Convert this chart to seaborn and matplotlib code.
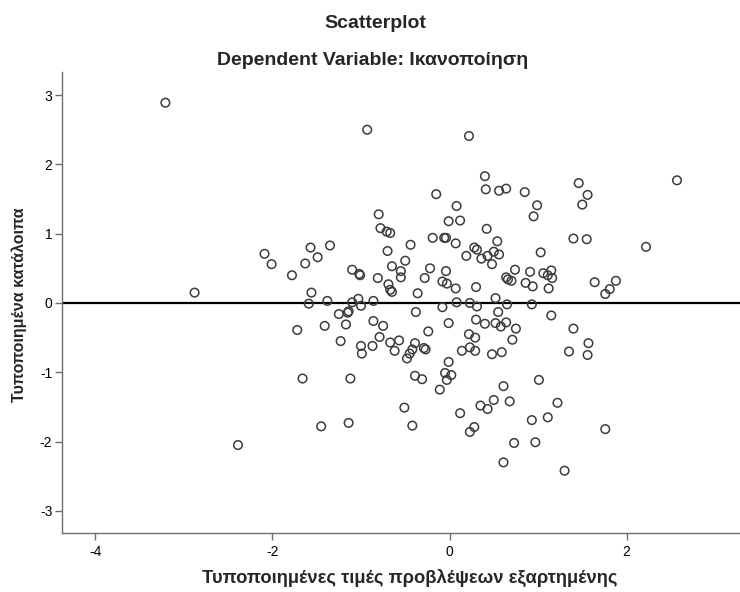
import matplotlib
matplotlib.use("Agg")
import matplotlib.pyplot as plt
import seaborn as sns
import pandas as pd

# Standardized predicted values (x) and standardized residuals (y)
pred = [
    -3.21, -2.09, -2.01, -2.88, -2.39,
    -1.78, -1.63, -1.57, -1.49, -1.35, -1.56, -1.59, -1.38, -1.10, -1.02,
    -1.01, -1.10, -1.03, -1.00, -0.86, -0.80, -0.78, -0.71, -0.67, -0.70,
    -0.65, -0.81, -0.69, -0.67, -0.65,
    -1.25, -1.15, -1.14, -1.72, -1.41, -1.17, -0.86, -0.75, -1.23, -1.00,
    -0.99, -0.87, -0.79, -0.67, -0.62, -1.66, -1.12, -1.45, -1.14, -0.93,
    0.22, -0.15, 0.40, 0.41, 0.56, 0.64, 0.08, -0.01, 0.12, 0.42,
    -0.19, -0.06, -0.04, 0.07, -0.44, 0.54, 0.19, 0.28, 0.31, 0.36,
    0.43, 0.50, 0.56, 0.48, -0.50, -0.55, -0.55, -0.22, -0.28, -0.04,
    -0.08, -0.03, 0.07, 0.30, 0.64, 0.66, 0.52, -0.36, 0.08, 0.23,
    -0.38, -0.08, 0.31, 0.55, 0.65,
    -0.01, 0.30, 0.40, 0.52, 0.58, 0.64, -0.24, -0.57, -0.39, -0.42,
    -0.45, -0.48, -0.29, -0.27, 0.22, 0.29, 0.14, 0.23, 0.29, 0.48,
    0.59, -0.01, -0.05, 0.02, -0.03, -0.39, -0.31, -0.11, 0.61, -0.51,
    -0.42, 0.12, 0.35, 0.43, 0.50, 0.68, 0.23, 0.28, 0.61,
    0.85, 0.99, 0.95, 1.46, 1.56, 1.50, 1.40, 1.55, 1.03, 0.74,
    0.70, 0.91, 0.86, 0.94, 1.06, 1.11, 1.15, 1.16, 1.12, 1.64,
    1.76, 1.81, 1.88, 0.93,
    0.75, 0.71, 1.15, 1.40, 1.57, 1.35, 1.56, 1.01, 1.22, 0.93,
    1.11, 1.76, 0.73, 0.97, 1.30,
    2.57, 2.22,
]
resid = [
    2.89, 0.71, 0.56, 0.15, -2.05,
    0.40, 0.57, 0.80, 0.66, 0.83, 0.15, -0.01, 0.03, 0.48, 0.42,
    0.40, 0.01, 0.06, -0.04, 0.03, 1.28, 1.08, 1.03, 1.01, 0.75,
    0.53, 0.36, 0.27, 0.19, 0.16,
    -0.16, -0.14, -0.12, -0.39, -0.33, -0.31, -0.26, -0.33, -0.55, -0.62,
    -0.73, -0.62, -0.49, -0.57, -0.69, -1.09, -1.09, -1.78, -1.73, 2.50,
    2.41, 1.57, 1.83, 1.64, 1.62, 1.65, 1.40, 1.18, 1.19, 1.07,
    0.94, 0.94, 0.94, 0.86, 0.84, 0.89, 0.68, 0.80, 0.77, 0.64,
    0.68, 0.74, 0.70, 0.56, 0.61, 0.46, 0.37, 0.50, 0.36, 0.46,
    0.31, 0.28, 0.21, 0.23, 0.37, 0.34, 0.07, 0.14, 0.01, 0.00,
    -0.13, -0.06, -0.05, -0.13, -0.02,
    -0.29, -0.24, -0.30, -0.29, -0.34, -0.28, -0.41, -0.54, -0.58, -0.67,
    -0.73, -0.80, -0.65, -0.67, -0.45, -0.50, -0.69, -0.64, -0.69, -0.74,
    -0.71, -0.85, -1.01, -1.04, -1.11, -1.05, -1.10, -1.25, -1.20, -1.51,
    -1.77, -1.59, -1.48, -1.53, -1.40, -1.42, -1.86, -1.79, -2.30,
    1.60, 1.41, 1.25, 1.73, 1.56, 1.42, 0.93, 0.92, 0.73, 0.48,
    0.32, 0.45, 0.29, 0.24, 0.43, 0.40, 0.47, 0.36, 0.21, 0.30,
    0.13, 0.20, 0.32, -0.02,
    -0.37, -0.53, -0.18, -0.37, -0.58, -0.70, -0.75, -1.11, -1.44, -1.69,
    -1.65, -1.82, -2.02, -2.01, -2.42,
    1.77, 0.81,
]

x_ticks = [-4, -2, 0, 2]
y_ticks = [-3, -2, -1, 0, 1, 2, 3]
title = "Scatterplot"
subtitle = "Dependent Variable: Ικανοποίηση"
x_label = "Τυποποιημένες τιμές προβλέψεων εξαρτημένης"
y_label = "Τυποποιημένα κατάλοιπα"

df = pd.DataFrame({"pred": pred, "resid": resid})

sns.set_theme(style="white")
plt.rcParams["font.family"] = ["Liberation Sans", "DejaVu Sans"]

fig = plt.figure(figsize=(7.4, 5.92), dpi=100)
ax = fig.add_axes([62 / 740, 59 / 592, 678 / 740, 461 / 592])

ax.axhline(0, color="black", linewidth=1.6, zorder=1)
sns.scatterplot(data=df, x="pred", y="resid", ax=ax, s=38,
                facecolor="none", edgecolor="#3c3c3c", linewidth=1.1,
                zorder=2, legend=False)

ax.set_xlim(-4.378, 3.282)
ax.set_ylim(-3.319, 3.333)
ax.set_xticks(x_ticks)
ax.set_yticks(y_ticks)
ax.set_xticklabels([str(t) for t in x_ticks])
ax.set_yticklabels([str(t) for t in y_ticks])
ax.set_xlabel("")
ax.set_ylabel("")

for side in ["top", "right"]:
    ax.spines[side].set_visible(False)
for side in ["left", "bottom"]:
    ax.spines[side].set_color("#6e6e6e")
    ax.spines[side].set_linewidth(1.0)

ax.tick_params(axis="both", which="major", direction="out", length=5,
               width=1.0, color="#6e6e6e", labelsize=10, labelcolor="black")
ax.tick_params(axis="x", pad=4)
ax.tick_params(axis="y", pad=2)
ax.tick_params(left=True, bottom=True)

fig.text(375 / 740, 1 - 27.5 / 592, title, ha="center", va="baseline",
         fontsize=14, fontweight="bold")
fig.text(373 / 740, 1 - 65 / 592, subtitle, ha="center", va="baseline",
         fontsize=14, fontweight="bold")
fig.text(410 / 740, 9 / 592, x_label, ha="center", va="baseline",
         fontsize=13.2, fontweight="bold")
fig.text(19 / 740, 1 - 305 / 592, y_label, ha="center", va="center",
         rotation=90, fontsize=11.5, fontweight="bold")

fig.savefig("out.png", dpi=100)
